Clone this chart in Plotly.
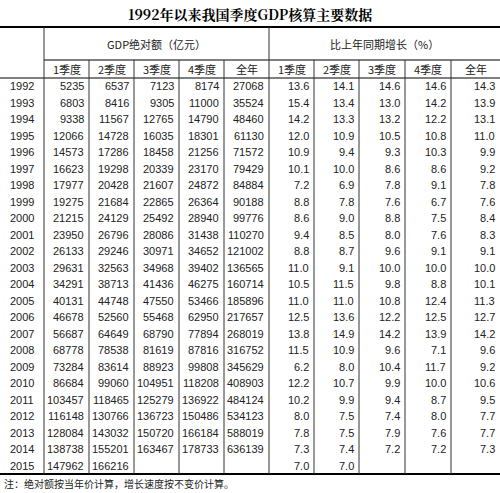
import plotly.graph_objects as go

years = list(range(1992, 2016))
q_labels = ["1季度", "2季度", "3季度", "4季度", "全年"]

gdp_q1 = [5235, 6803, 9338, 12066, 14573, 16623, 17977, 19275, 21215, 23950, 26133, 29631,
          34291, 40131, 46678, 56687, 68778, 73284, 86684, 103457, 116148, 128084, 138738, 147962]
gdp_q2 = [6537, 8416, 11567, 14728, 17286, 19298, 20428, 21684, 24129, 26796, 29246, 32563,
          38713, 44748, 52560, 64649, 78538, 83614, 99060, 118465, 130766, 143032, 155201, 166216]
gdp_q3 = [7123, 9305, 12765, 16035, 18458, 20339, 21607, 22865, 25492, 28086, 30971, 34968,
          41436, 47550, 55468, 68790, 81619, 88923, 104951, 125279, 136723, 150720, 163467, None]
gdp_q4 = [8174, 11000, 14790, 18301, 21256, 23170, 24872, 26364, 28940, 31438, 34652, 39402,
          46275, 53466, 62950, 77894, 87816, 99808, 118208, 136922, 150486, 166184, 178733, None]
gdp_year = [27068, 35524, 48460, 61130, 71572, 79429, 84884, 90188, 99776, 110270, 121002, 136565,
            160714, 185896, 217657, 268019, 316752, 345629, 408903, 484124, 534123, 588019, 636139, None]

gr_q1 = [13.6, 15.4, 14.2, 12.0, 10.9, 10.1, 7.2, 8.8, 8.6, 9.4, 8.8, 11.0,
         10.5, 11.0, 12.5, 13.8, 11.5, 6.2, 12.2, 10.2, 8.0, 7.8, 7.3, 7.0]
gr_q2 = [14.1, 13.4, 13.3, 10.9, 9.4, 10.0, 6.9, 7.8, 9.0, 8.5, 8.7, 9.1,
         11.5, 11.0, 13.6, 14.9, 10.9, 8.0, 10.7, 9.9, 7.5, 7.5, 7.4, 7.0]
gr_q3 = [14.6, 13.0, 13.2, 10.5, 9.3, 8.6, 7.8, 7.6, 8.8, 8.0, 9.6, 10.0,
         9.8, 10.8, 12.2, 14.2, 9.6, 10.4, 9.9, 9.4, 7.4, 7.9, 7.2, None]
gr_q4 = [14.6, 14.2, 12.2, 10.8, 10.3, 8.6, 9.1, 6.7, 7.5, 7.6, 9.1, 10.0,
         8.8, 12.4, 12.5, 13.9, 7.1, 11.7, 10.0, 8.7, 8.0, 7.6, 7.2, None]
gr_year = [14.3, 13.9, 13.1, 11.0, 9.9, 9.2, 7.8, 7.6, 8.4, 8.3, 9.1, 10.0,
           10.1, 11.3, 12.7, 14.2, 9.6, 9.2, 10.6, 9.5, 7.7, 7.7, 7.3, None]

# layout in pixels
col_x = [0, 44, 89, 134, 179, 224, 269, 314, 359, 405, 451, 500]
top, h1, h2, row_h = 27, 60, 78, 16.5
bottom = h2 + row_h * len(years)
num_font = dict(family="Liberation Sans, Arial", size=11, color="#222")
cjk_font = dict(family="Noto Sans CJK SC", size=11, color="#222")

fig = go.Figure()
shapes = []
ann = []

def hline(y, x0, x1, w):
    shapes.append(dict(type="line", x0=x0, x1=x1, y0=y, y1=y, line=dict(color="black", width=w)))

def vline(x, y0, y1, w=1):
    shapes.append(dict(type="line", x0=x, x1=x, y0=y0, y1=y1, line=dict(color="#333", width=w)))

hline(top, 0, 500, 2)
hline(h1, 44, 500, 1)
hline(h2, 0, 500, 1)
hline(bottom, 0, 500, 2)
vline(44, top, bottom)
vline(269, top, bottom)
for x in col_x[2:6] + col_x[7:11]:
    vline(x, h1, bottom)

ann.append(dict(x=250, y=14, text="<b>1992年以来我国季度GDP核算主要数据</b>",
                font=dict(family="Noto Serif CJK SC, Noto Sans CJK SC", size=14, color="black")))
ann.append(dict(x=(44 + 269) / 2, y=(top + h1) / 2, text="GDP绝对额（亿元）", font=cjk_font))
ann.append(dict(x=(269 + 500) / 2, y=(top + h1) / 2, text="比上年同期增长（%）", font=cjk_font))
for i in range(10):
    ann.append(dict(x=(col_x[i + 1] + col_x[i + 2]) / 2, y=(h1 + h2) / 2,
                    text=q_labels[i % 5], font=cjk_font))

columns = [gdp_q1, gdp_q2, gdp_q3, gdp_q4, gdp_year, gr_q1, gr_q2, gr_q3, gr_q4, gr_year]
for r, yr in enumerate(years):
    yc = h2 + row_h * (r + 0.5)
    ann.append(dict(x=22, y=yc, text=str(yr), font=num_font))
    for c, col in enumerate(columns):
        v = col[r]
        if v is None:
            continue
        txt = f"{v:.1f}" if c >= 5 else str(v)
        ann.append(dict(x=col_x[c + 2] - 3, y=yc, text=txt, xanchor="right", font=num_font))

ann.append(dict(x=2, y=bottom + 9, text="注：绝对额按当年价计算，增长速度按不变价计算。",
                xanchor="left", font=dict(family="Noto Sans CJK SC", size=10, color="#222")))

for a in ann:
    a.setdefault("showarrow", False)
    a.setdefault("xanchor", "center")
    a["yanchor"] = "middle"

fig.update_layout(
    width=500, height=493, margin=dict(l=0, r=0, t=0, b=0),
    plot_bgcolor="white", paper_bgcolor="white",
    xaxis=dict(range=[0, 500], visible=False, fixedrange=True),
    yaxis=dict(range=[493, 0], visible=False, fixedrange=True),
    shapes=shapes, annotations=ann, showlegend=False,
)
fig.write_html("out.html", config={"displayModeBar": False},
               post_script="document.body.style.margin='0';document.body.style.overflow='hidden';")
